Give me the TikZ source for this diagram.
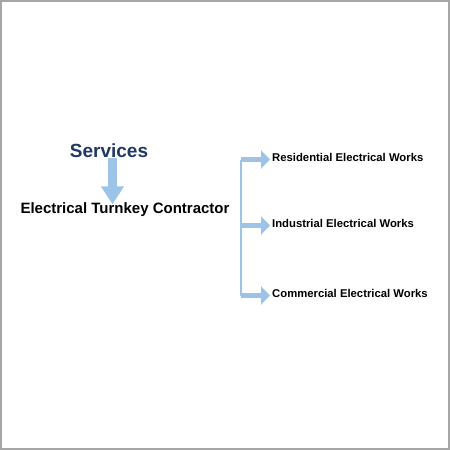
\documentclass[tikz,border=0pt]{standalone}
\usepackage{fontspec}
\setmainfont{Liberation Sans}
\usetikzlibrary{arrows.meta}
\definecolor{arrowblue}{RGB}{157,195,230}
\definecolor{navy}{RGB}{31,56,100}

\begin{document}
\begin{tikzpicture}[
  x=1pt,y=-1pt,
  title/.style={inner sep=0pt,text=navy,font=\fontsize{19}{22}\selectfont\bfseries},
  main/.style={inner sep=0pt,font=\fontsize{15}{18}\selectfont\bfseries},
  work/.style={inner sep=0pt,anchor=west,font=\fontsize{11.3}{13}\selectfont\bfseries},
  downarrow/.style={draw=arrowblue,line width=9pt,-{Triangle[length=18pt,width=22pt]}},
  sidearrow/.style={draw=arrowblue,line width=4.5pt,-{Triangle[length=9pt,width=18pt]}},
  trunk/.style={draw=arrowblue,line width=2.5pt}
]

\useasboundingbox (0,0) rectangle (450,450);
\draw[black!35,line width=2pt] (1,1) rectangle (449,449);

\node[title] (services) at (109,151) {Services};
\node[main] (contractor) at (125,210) {Electrical Turnkey Contractor};
\coordinate (down) at (112.5,0);
\coordinate (fork) at (241,0);

\foreach \name/\y/\kind in {res/157/Residential,ind/223/Industrial,com/293/Commercial}
  \node[work] (\name) at (272,\y) {\kind\ Electrical Works};

\draw[downarrow,shorten >=-1.5pt] (services.south -| down) -- (contractor.north -| down);
\draw[trunk] ([yshift=-2.5pt]res.west -| fork) -- ([yshift=-2.5pt]com.west -| fork);
\foreach \name in {res,ind,com}
  \draw[sidearrow,shorten >=2pt] ([yshift=-2.5pt]\name.west -| fork) -- ([yshift=-2.5pt]\name.west);

\end{tikzpicture}
\end{document}
